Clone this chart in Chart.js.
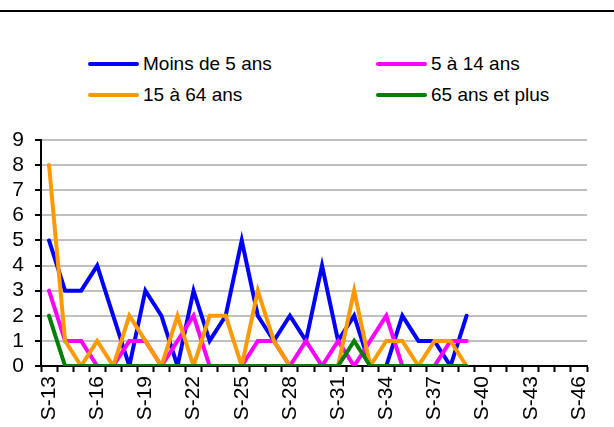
<!DOCTYPE html>
<html>
<head>
<meta charset="utf-8">
<script src="https://cdn.jsdelivr.net/npm/chart.js@4/dist/chart.umd.min.js"></script>
<style>
  html, body { margin: 0; padding: 0; background: #fff; }
  #wrap { position: relative; width: 614px; height: 427px; overflow: hidden; }
  #topRule { position: absolute; left: 0; top: 10px; width: 614px; height: 2px; background: #000; }
  #legend { position: absolute; left: 0; top: 0; width: 614px; height: 120px;
            font-family: 'Liberation Sans', Arial, sans-serif; font-size: 19px; color: #000; }
  .item { position: absolute; height: 24px; display: flex; align-items: center; white-space: nowrap; }
  .swatch { width: 51px; height: 4px; border-radius: 2px; margin-right: 4px; }
  canvas { position: absolute; left: 0; top: 0; }
</style>
</head>
<body>
<div id="wrap">
  <div id="topRule"></div>
  <div id="legend"></div>
  <canvas id="chart" width="614" height="427"></canvas>
</div>
<script>
// weeks on the x axis
const weeks = [];
for (let w = 13; w <= 46; w++) weeks.push("S-" + w);

const seriesNames = ["Moins de 5 ans", "5 à 14 ans", "15 à 64 ans", "65 ans et plus"];

// weekly counts, S-13 .. S-39
const moins5 = [5, 3, 3, 4, 2, 0, 3, 2, 0, 3, 1, 2, 5, 2, 1, 2, 1, 4, 1, 2, 0, 0, 2, 1, 1, 0, 2];
const de5a14 = [3, 1, 1, 0, 0, 1, 1, 0, 1, 2, 0, 0, 0, 1, 1, 0, 1, 0, 1, 0, 1, 2, 0, 0, 0, 1, 1];
const de15a64 = [8, 1, 0, 1, 0, 2, 1, 0, 2, 0, 2, 2, 0, 3, 1, 0, 0, 0, 0, 3, 0, 1, 1, 0, 1, 1, 0];
const plus65 = [2, 0, 0, 0, 0, 0, 0, 0, 0, 0, 0, 0, 0, 0, 0, 0, 0, 0, 0, 1, 0, 0, 0, 0, 0, 0, 0];

const yMax = 9;

const colors = ["#0000ff", "#ff00ff", "#ff9900", "#008000"];
const allSeries = [moins5, de5a14, de15a64, plus65];

// legend, 2 columns x 2 rows
const legendPos = [[88, 52], [376, 52], [88, 83], [376, 83]];
const legendEl = document.getElementById("legend");
seriesNames.forEach((name, i) => {
  let item = document.createElement("div");
  item.className = "item";
  item.style.left = legendPos[i][0] + "px";
  item.style.top = legendPos[i][1] + "px";
  item.innerHTML = '<span class="swatch" style="background:' + colors[i] + '"></span>' + name;
  legendEl.appendChild(item);
});

Chart.defaults.font.family = "'Liberation Sans', Arial, sans-serif";
Chart.defaults.color = "#000";

let datasets = allSeries.map((values, i) => ({
  label: seriesNames[i],
  data: values,
  borderColor: colors[i],
  backgroundColor: colors[i],
  borderWidth: 4,
  pointRadius: 0,
  tension: 0,
  fill: false,
  borderCapStyle: "round",
  order: allSeries.length - i
}));

let ctx = document.getElementById("chart").getContext("2d");
let myChart = new Chart(ctx, {
  type: "line",
  data: { labels: weeks, datasets: datasets },
  options: {
    responsive: false,
    animation: false,
    events: [],
    layout: { padding: { top: 140, right: 27, bottom: 0, left: 0 } },
    plugins: { legend: { display: false }, tooltip: { enabled: false } },
    scales: {
      x: {
        offset: true,
        grid: { offset: true, drawOnChartArea: false, drawTicks: true, tickLength: 6, tickColor: "#000", tickWidth: 2 },
        border: { color: "#000", width: 2 },
        ticks: {
          autoSkip: false,
          minRotation: 90,
          maxRotation: 90,
          padding: 4,
          font: { size: 21 },
          callback: function (val, idx) { return idx % 3 === 0 ? this.getLabelForValue(val) : ""; }
        },
        afterFit: (scale) => { scale.height = 61; }
      },
      y: {
        min: 0,
        max: yMax,
        grid: { color: "#c0c0c0", lineWidth: 2, tickLength: 6, tickColor: "#000", tickWidth: 2 },
        border: { color: "#000", width: 2 },
        ticks: { stepSize: 1, autoSkip: false, padding: 11, font: { size: 21 } },
        afterFit: (scale) => { scale.width = 41; }
      }
    }
  }
});
</script>
</body>
</html>
